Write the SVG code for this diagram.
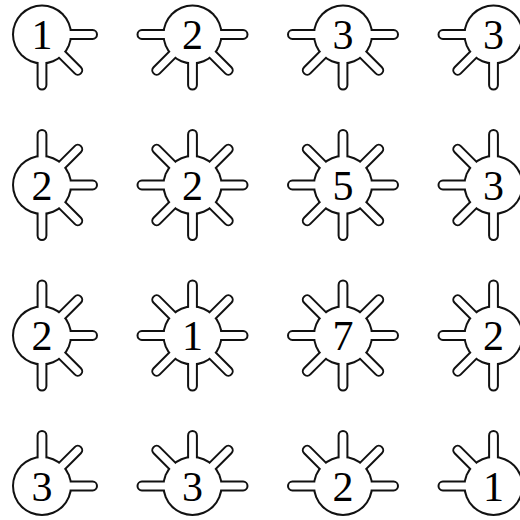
<svg xmlns="http://www.w3.org/2000/svg" width="520" height="520" viewBox="0 0 520 520">
<style>
.ob{fill:#111;stroke:none}
.wb{fill:#fff;stroke:none}
.ol{fill:none;stroke:#111;stroke-width:10.8;stroke-linecap:round}
.wl{fill:none;stroke:#fff;stroke-width:6.8;stroke-linecap:round}
text{font-family:"Liberation Serif","DejaVu Serif",serif;font-size:42px;fill:#000;text-anchor:middle}
</style>
<rect width="520" height="520" fill="#fff"/>
<g id="nodes">
<g id="n1" transform="translate(42,34.5)">
<circle class="ob" r="30"/><path class="ol" d="M0 0L50.6 0M0 0L35.8 35.8M0 0L0 50.6"/>
<circle class="wb" r="28"/><path class="wl" d="M0 0L50.6 0M0 0L35.8 35.8M0 0L0 50.6"/>
<text y="14.5">1</text></g>
<g id="n2" transform="translate(192.5,34.5)">
<circle class="ob" r="30"/><path class="ol" d="M0 0L-50.6 0M0 0L50.6 0M0 0L-35.8 35.8M0 0L0 50.6M0 0L35.8 35.8"/>
<circle class="wb" r="28"/><path class="wl" d="M0 0L-50.6 0M0 0L50.6 0M0 0L-35.8 35.8M0 0L0 50.6M0 0L35.8 35.8"/>
<text y="14.5">2</text></g>
<g id="n3" transform="translate(343,34.5)">
<circle class="ob" r="30"/><path class="ol" d="M0 0L-50.6 0M0 0L50.6 0M0 0L-35.8 35.8M0 0L0 50.6M0 0L35.8 35.8"/>
<circle class="wb" r="28"/><path class="wl" d="M0 0L-50.6 0M0 0L50.6 0M0 0L-35.8 35.8M0 0L0 50.6M0 0L35.8 35.8"/>
<text y="14.5">3</text></g>
<g id="n4" transform="translate(493.5,34.5)">
<circle class="ob" r="30"/><path class="ol" d="M0 0L-50.6 0M0 0L-35.8 35.8M0 0L0 50.6"/>
<circle class="wb" r="28"/><path class="wl" d="M0 0L-50.6 0M0 0L-35.8 35.8M0 0L0 50.6"/>
<text y="14.5">3</text></g>

<g id="n5" transform="translate(42,185)">
<circle class="ob" r="30"/><path class="ol" d="M0 0L0 -50.6M0 0L35.8 -35.8M0 0L50.6 0M0 0L35.8 35.8M0 0L0 50.6"/>
<circle class="wb" r="28"/><path class="wl" d="M0 0L0 -50.6M0 0L35.8 -35.8M0 0L50.6 0M0 0L35.8 35.8M0 0L0 50.6"/>
<text y="14.5">2</text></g>
<g id="n6" transform="translate(192.5,185)">
<circle class="ob" r="30"/><path class="ol" d="M0 0L50.6 0M0 0L35.8 35.8M0 0L0 50.6M0 0L-35.8 35.8M0 0L-50.6 0M0 0L-35.8 -35.8M0 0L0 -50.6M0 0L35.8 -35.8"/>
<circle class="wb" r="28"/><path class="wl" d="M0 0L50.6 0M0 0L35.8 35.8M0 0L0 50.6M0 0L-35.8 35.8M0 0L-50.6 0M0 0L-35.8 -35.8M0 0L0 -50.6M0 0L35.8 -35.8"/>
<text y="14.5">2</text></g>
<g id="n7" transform="translate(343,185)">
<circle class="ob" r="30"/><path class="ol" d="M0 0L50.6 0M0 0L35.8 35.8M0 0L0 50.6M0 0L-35.8 35.8M0 0L-50.6 0M0 0L-35.8 -35.8M0 0L0 -50.6M0 0L35.8 -35.8"/>
<circle class="wb" r="28"/><path class="wl" d="M0 0L50.6 0M0 0L35.8 35.8M0 0L0 50.6M0 0L-35.8 35.8M0 0L-50.6 0M0 0L-35.8 -35.8M0 0L0 -50.6M0 0L35.8 -35.8"/>
<text y="14.5">5</text></g>
<g id="n8" transform="translate(493.5,185)">
<circle class="ob" r="30"/><path class="ol" d="M0 0L0 -50.6M0 0L-35.8 -35.8M0 0L-50.6 0M0 0L-35.8 35.8M0 0L0 50.6"/>
<circle class="wb" r="28"/><path class="wl" d="M0 0L0 -50.6M0 0L-35.8 -35.8M0 0L-50.6 0M0 0L-35.8 35.8M0 0L0 50.6"/>
<text y="14.5">3</text></g>

<g id="n9" transform="translate(42,335.5)">
<circle class="ob" r="30"/><path class="ol" d="M0 0L0 -50.6M0 0L35.8 -35.8M0 0L50.6 0M0 0L35.8 35.8M0 0L0 50.6"/>
<circle class="wb" r="28"/><path class="wl" d="M0 0L0 -50.6M0 0L35.8 -35.8M0 0L50.6 0M0 0L35.8 35.8M0 0L0 50.6"/>
<text y="14.5">2</text></g>
<g id="n10" transform="translate(192.5,335.5)">
<circle class="ob" r="30"/><path class="ol" d="M0 0L50.6 0M0 0L35.8 35.8M0 0L0 50.6M0 0L-35.8 35.8M0 0L-50.6 0M0 0L-35.8 -35.8M0 0L0 -50.6M0 0L35.8 -35.8"/>
<circle class="wb" r="28"/><path class="wl" d="M0 0L50.6 0M0 0L35.8 35.8M0 0L0 50.6M0 0L-35.8 35.8M0 0L-50.6 0M0 0L-35.8 -35.8M0 0L0 -50.6M0 0L35.8 -35.8"/>
<text y="14.5">1</text></g>
<g id="n11" transform="translate(343,335.5)">
<circle class="ob" r="30"/><path class="ol" d="M0 0L50.6 0M0 0L35.8 35.8M0 0L0 50.6M0 0L-35.8 35.8M0 0L-50.6 0M0 0L-35.8 -35.8M0 0L0 -50.6M0 0L35.8 -35.8"/>
<circle class="wb" r="28"/><path class="wl" d="M0 0L50.6 0M0 0L35.8 35.8M0 0L0 50.6M0 0L-35.8 35.8M0 0L-50.6 0M0 0L-35.8 -35.8M0 0L0 -50.6M0 0L35.8 -35.8"/>
<text y="14.5">7</text></g>
<g id="n12" transform="translate(493.5,335.5)">
<circle class="ob" r="30"/><path class="ol" d="M0 0L0 -50.6M0 0L-35.8 -35.8M0 0L-50.6 0M0 0L-35.8 35.8M0 0L0 50.6"/>
<circle class="wb" r="28"/><path class="wl" d="M0 0L0 -50.6M0 0L-35.8 -35.8M0 0L-50.6 0M0 0L-35.8 35.8M0 0L0 50.6"/>
<text y="14.5">2</text></g>

<g id="n13" transform="translate(42,486)">
<circle class="ob" r="30"/><path class="ol" d="M0 0L0 -50.6M0 0L35.8 -35.8M0 0L50.6 0"/>
<circle class="wb" r="28"/><path class="wl" d="M0 0L0 -50.6M0 0L35.8 -35.8M0 0L50.6 0"/>
<text y="14.5">3</text></g>
<g id="n14" transform="translate(192.5,486)">
<circle class="ob" r="30"/><path class="ol" d="M0 0L-50.6 0M0 0L-35.8 -35.8M0 0L0 -50.6M0 0L35.8 -35.8M0 0L50.6 0"/>
<circle class="wb" r="28"/><path class="wl" d="M0 0L-50.6 0M0 0L-35.8 -35.8M0 0L0 -50.6M0 0L35.8 -35.8M0 0L50.6 0"/>
<text y="14.5">3</text></g>
<g id="n15" transform="translate(343,486)">
<circle class="ob" r="30"/><path class="ol" d="M0 0L-50.6 0M0 0L-35.8 -35.8M0 0L0 -50.6M0 0L35.8 -35.8M0 0L50.6 0"/>
<circle class="wb" r="28"/><path class="wl" d="M0 0L-50.6 0M0 0L-35.8 -35.8M0 0L0 -50.6M0 0L35.8 -35.8M0 0L50.6 0"/>
<text y="14.5">2</text></g>
<g id="n16" transform="translate(493.5,486)">
<circle class="ob" r="30"/><path class="ol" d="M0 0L-50.6 0M0 0L-35.8 -35.8M0 0L0 -50.6"/>
<circle class="wb" r="28"/><path class="wl" d="M0 0L-50.6 0M0 0L-35.8 -35.8M0 0L0 -50.6"/>
<text y="14.5">1</text></g>
</g>
<g id="connectors"/>
</svg>
